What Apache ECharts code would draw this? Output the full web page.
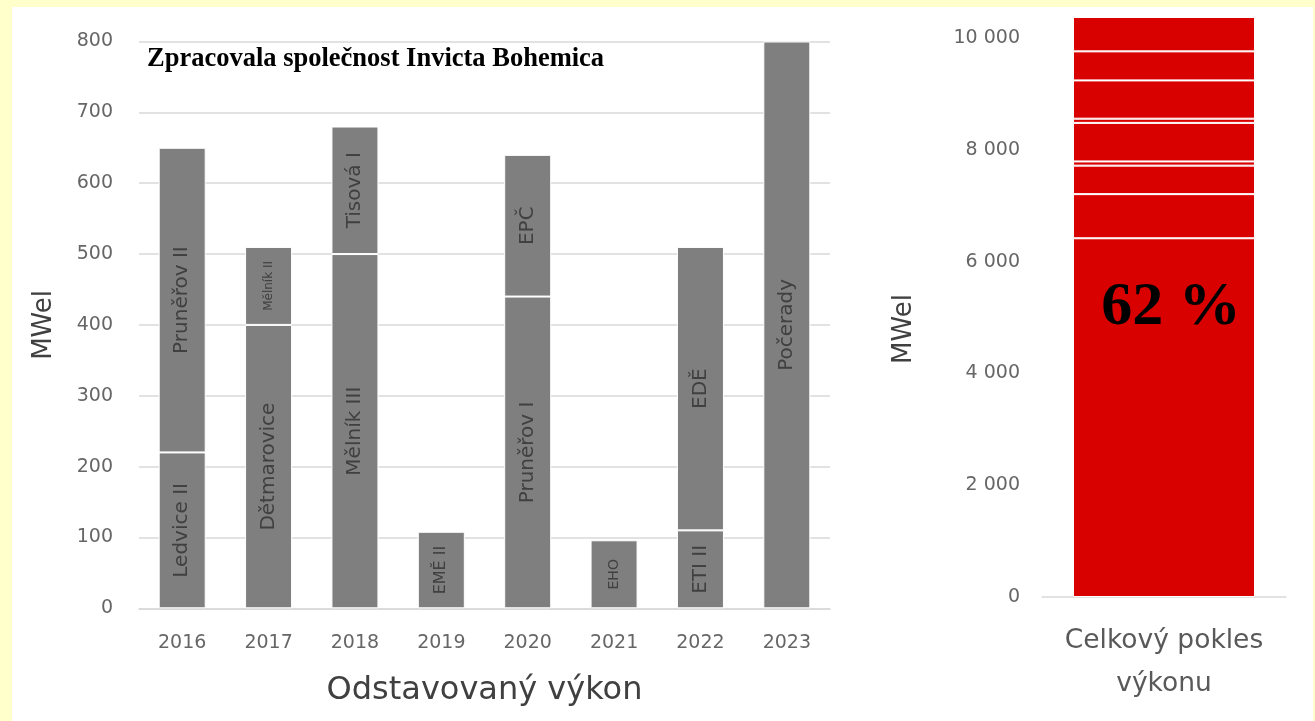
<!DOCTYPE html>
<html>
<head>
<meta charset="utf-8">
<script src="https://cdn.jsdelivr.net/npm/echarts@6/dist/echarts.min.js"></script>
<style>
  html, body { margin: 0; padding: 0; background: #ffffcc; width: 1315px; height: 721px; overflow: hidden; }
  #panel { position: absolute; left: 12px; top: 7px; width: 1301px; height: 714px; background: #ffffff; }
  #chart { position: absolute; left: 0; top: 0; width: 1315px; height: 721px; }
</style>
</head>
<body>
<div id="panel"></div>
<div id="chart"></div>
<script>
// ---- data ----
const years = ['2016', '2017', '2018', '2019', '2020', '2021', '2022', '2023'];
const lowerUnits = ['Ledvice II', 'Dětmarovice', 'Mělník III', 'EMĚ II', 'Pruněřov I', 'EHO', 'ETI II', 'Počerady'];
const lowerMW = [220, 400, 500, 108, 440, 96, 110, 800];
const upperUnits = ['Pruněřov II', 'Mělník II', 'Tisová I', '', 'EPČ', '', 'EDĚ', ''];
const upperMW = [430, 110, 180, null, 200, null, 400, null];

const totalCategory = ['Celkový pokles\nvýkonu'];
const remainingMW = 6420;
const stackYears = ['2023', '2022', '2021', '2020', '2019', '2018', '2017', '2016'];
const stackMW = [790, 510, 75, 690, 75, 685, 520, 615];

const leftMax = 800, leftInterval = 100;
const rightInterval = 2000;

const chartTitle = 'Zpracovala společnost Invicta Bohemica';
const leftXName = 'Odstavovaný výkon';
const yName = 'MWel';

// ---- styling ----
const SANS = 'DejaVu Sans';
const GRAY_BAR = '#7f7f7f';
const RED = '#d90000';
const GRID = '#d9d9d9';
const TICK = '#666666';
const smallLabelSize = { 'Mělník II': 12, 'EMĚ II': 16, 'EHO': 14 };

function unitItem(v, name) {
  if (v == null) return null;
  return {
    value: v,
    unit: name,
    label: { fontSize: smallLabelSize[name] || 20 }
  };
}

const rightTotal = remainingMW + stackMW.reduce((a, b) => a + b, 0);
const pct = Math.round(remainingMW / rightTotal * 100) + ' %';

const segLabel = {
  show: true,
  position: 'inside',
  rotate: 90,
  color: '#404040',
  fontFamily: SANS,
  formatter: p => (p.data && p.data.unit) || ''
};

const series = [
  {
    name: 'lower', type: 'bar', stack: 'y', xAxisIndex: 0, yAxisIndex: 0,
    barWidth: 47,
    itemStyle: { color: GRAY_BAR, borderColor: '#ffffff', borderWidth: 1 },
    label: segLabel,
    data: lowerMW.map((v, i) => unitItem(v, lowerUnits[i]))
  },
  {
    name: 'upper', type: 'bar', stack: 'y', xAxisIndex: 0, yAxisIndex: 0,
    barWidth: 47,
    itemStyle: { color: GRAY_BAR, borderColor: '#ffffff', borderWidth: 1 },
    label: segLabel,
    data: upperMW.map((v, i) => unitItem(v, upperUnits[i]))
  },
  {
    name: 'remaining', type: 'bar', stack: 'total', xAxisIndex: 1, yAxisIndex: 1,
    barWidth: 182,
    itemStyle: { color: RED, borderColor: '#ffffff', borderWidth: 1 },
    label: {
      show: true, position: 'insideTop', distance: 39, offset: [7, 0],
      formatter: pct, color: '#000000',
      fontFamily: 'Liberation Serif', fontWeight: 'bold', fontSize: 62
    },
    data: [remainingMW]
  }
];
stackYears.forEach((y, i) => {
  series.push({
    name: y, type: 'bar', stack: 'total', xAxisIndex: 1, yAxisIndex: 1,
    barWidth: 182,
    itemStyle: { color: RED, borderColor: '#ffffff', borderWidth: 1 },
    data: [stackMW[i]]
  });
});

const option = {
  animation: false,
  backgroundColor: 'transparent',
  title: {
    text: chartTitle, left: 147, top: 46, padding: 0,
    textStyle: { fontFamily: 'Liberation Serif', fontWeight: 'bold', fontSize: 26.5, color: '#000000' }
  },
  grid: [
    { left: 139, top: 41.5, width: 691, height: 566.8 },
    { left: 1042, top: 17, width: 244, height: 580 }
  ],
  xAxis: [
    {
      type: 'category', gridIndex: 0, data: years,
      axisLine: { show: true, lineStyle: { color: GRID, width: 1.5 } },
      axisTick: { show: false },
      axisLabel: { color: TICK, fontFamily: SANS, fontSize: 19, margin: 25 },
      name: leftXName, nameLocation: 'middle', nameGap: 66,
      nameTextStyle: { color: '#404040', fontFamily: SANS, fontSize: 32 }
    },
    {
      type: 'category', gridIndex: 1, data: totalCategory,
      axisLine: { show: true, lineStyle: { color: GRID, width: 1.5 } },
      axisTick: { show: false },
      axisLabel: { color: '#595959', fontFamily: SANS, fontSize: 26.5, lineHeight: 43, margin: 23 }
    }
  ],
  yAxis: [
    {
      type: 'value', gridIndex: 0, min: 0, max: leftMax, interval: leftInterval,
      axisLine: { show: false }, axisTick: { show: false },
      splitLine: { show: true, lineStyle: { color: GRID, width: 1.5 } },
      axisLabel: { color: TICK, fontFamily: SANS, fontSize: 19, margin: 26 },
      name: yName, nameLocation: 'middle', nameGap: 82,
      nameTextStyle: { color: '#404040', fontFamily: SANS, fontSize: 26 }
    },
    {
      type: 'value', gridIndex: 1, min: 0, max: rightTotal, interval: rightInterval,
      axisLine: { show: false }, axisTick: { show: false },
      splitLine: { show: false },
      axisLabel: {
        color: TICK, fontFamily: SANS, fontSize: 19, margin: 22, showMaxLabel: false,
        formatter: v => String(v).replace(/\B(?=(\d{3})+(?!\d))/g, ' ')
      },
      name: yName, nameLocation: 'middle', nameGap: 125,
      nameTextStyle: { color: '#404040', fontFamily: SANS, fontSize: 26, padding: [0, 44, 0, 0] }
    }
  ],
  series: series
};

const chart = echarts.init(document.getElementById('chart'), null, { renderer: 'canvas' });
chart.setOption(option);
</script>
</body>
</html>
